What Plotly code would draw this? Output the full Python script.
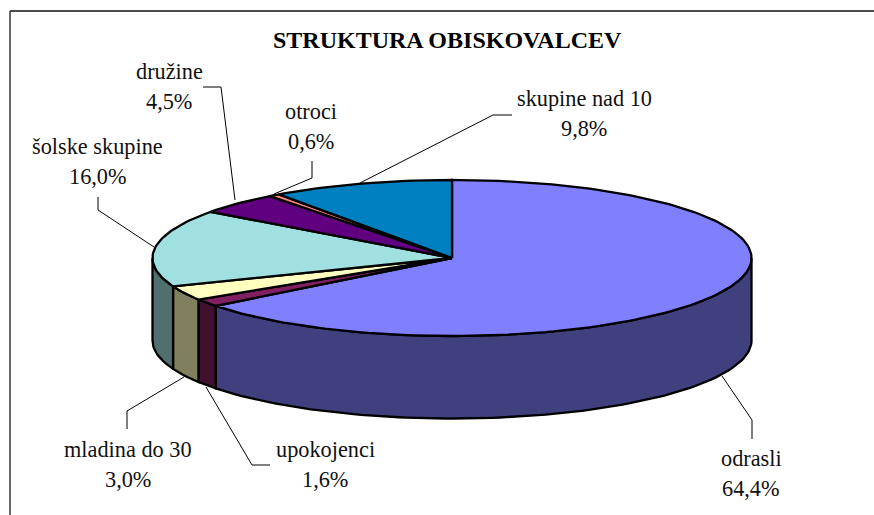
import math
import plotly.graph_objects as go

categories = ["odrasli", "upokojenci", "mladina do 30", "šolske skupine", "družine", "otroci", "skupine nad 10"]
shares = [64.4, 1.6, 3.0, 16.0, 4.5, 0.6, 9.8]
top_colors = ["#8080FF", "#802060", "#FFFFC0", "#A0E0E0", "#600080", "#FF8080", "#0080C0"]
side_colors = ["#40407F", "#40102F", "#80805F", "#507070", "#300040", "#7F4040", "#004060"]
title_text = "STRUKTURA OBISKOVALCEV"

label_pos = [(751, 458), (325, 449), (128, 449), (97.5, 146), (169, 71), (311, 111), (584, 98)]
leaders = [
    [(752, 439), (752, 420), (722, 376)],
    [(270, 465), (252, 465), (206, 387)],
    [(127, 429), (127, 411), (184, 377)],
    [(98, 197), (98, 210), (154, 247)],
    [(203, 87), (221, 87), (235, 200)],
    [(312, 161), (312, 178), (274, 194)],
    [(512, 115), (493, 115), (360, 183)],
]

CX, CY, A, B, DEPTH = 452.0, 258.0, 299.5, 78.0, 82.5
LINE_SPACING = 30
FONT = "Liberation Serif"


def rim(t0, t1, dy=0.0):
    n = max(2, int(abs(t1 - t0) / 1.5) + 2)
    pts = [t0 + (t1 - t0) * i / (n - 1) for i in range(n)]
    return ([CX + A * math.sin(math.radians(t)) for t in pts],
            [CY - B * math.cos(math.radians(t)) + dy for t in pts])


fig = go.Figure()
total = sum(shares)
bounds = [0.0]
for v in shares:
    bounds.append(bounds[-1] + v / total * 360)

# side walls of the front half
for i in range(len(shares)):
    t0, t1 = max(bounds[i], 90), min(bounds[i + 1], 270)
    if t1 <= t0:
        continue
    xu, yu = rim(t0, t1)
    xd, yd = rim(t1, t0, DEPTH)
    fig.add_trace(go.Scatter(x=xu + xd + xu[:1], y=yu + yd + yu[:1], mode="lines", fill="toself",
                             fillcolor=side_colors[i], line=dict(color="black", width=2.3),
                             hoverinfo="skip", showlegend=False))

# top face
for i in range(len(shares)):
    xr, yr = rim(bounds[i], bounds[i + 1])
    fig.add_trace(go.Scatter(x=[CX] + xr + [CX], y=[CY] + yr + [CY], mode="lines", fill="toself",
                             fillcolor=top_colors[i], line=dict(color="black", width=2.3),
                             name=categories[i], hoverinfo="skip", showlegend=False))

# leader lines
for pts in leaders:
    fig.add_trace(go.Scatter(x=[p[0] for p in pts], y=[p[1] for p in pts], mode="lines",
                             line=dict(color="black", width=1), hoverinfo="skip", showlegend=False))

annotations = [dict(x=447, y=40, xref="x", yref="y", text=f"<b>{title_text}</b>", showarrow=False,
                    font=dict(family=FONT, size=24, color="black"))]
for cat, val, (lx, ly) in zip(categories, shares, label_pos):
    annotations.append(dict(x=lx, y=ly, xref="x", yref="y", text=cat, showarrow=False,
                            font=dict(family=FONT, size=22.3, color="#111111")))
    annotations.append(dict(x=lx, y=ly + LINE_SPACING, xref="x", yref="y",
                            text=f"{val:.1f}%".replace(".", ","), showarrow=False,
                            font=dict(family=FONT, size=22.3, color="#111111")))

shapes = [
    dict(type="line", xref="x", yref="y", x0=10, y0=11, x1=874, y1=11, line=dict(color="#111111", width=1.5)),
    dict(type="line", xref="x", yref="y", x0=10, y0=11, x1=10, y1=515, line=dict(color="#333333", width=1.5)),
]

fig.update_layout(
    width=874, height=515, autosize=False,
    margin=dict(l=0, r=0, t=0, b=0),
    paper_bgcolor="white", plot_bgcolor="white",
    xaxis=dict(range=[0, 874], visible=False, fixedrange=True),
    yaxis=dict(range=[515, 0], visible=False, fixedrange=True),
    annotations=annotations, shapes=shapes, showlegend=False,
)
fig.write_html("out.html", config=dict(displayModeBar=False),
               post_script="document.body.style.margin='0';document.body.style.overflow='hidden';")
